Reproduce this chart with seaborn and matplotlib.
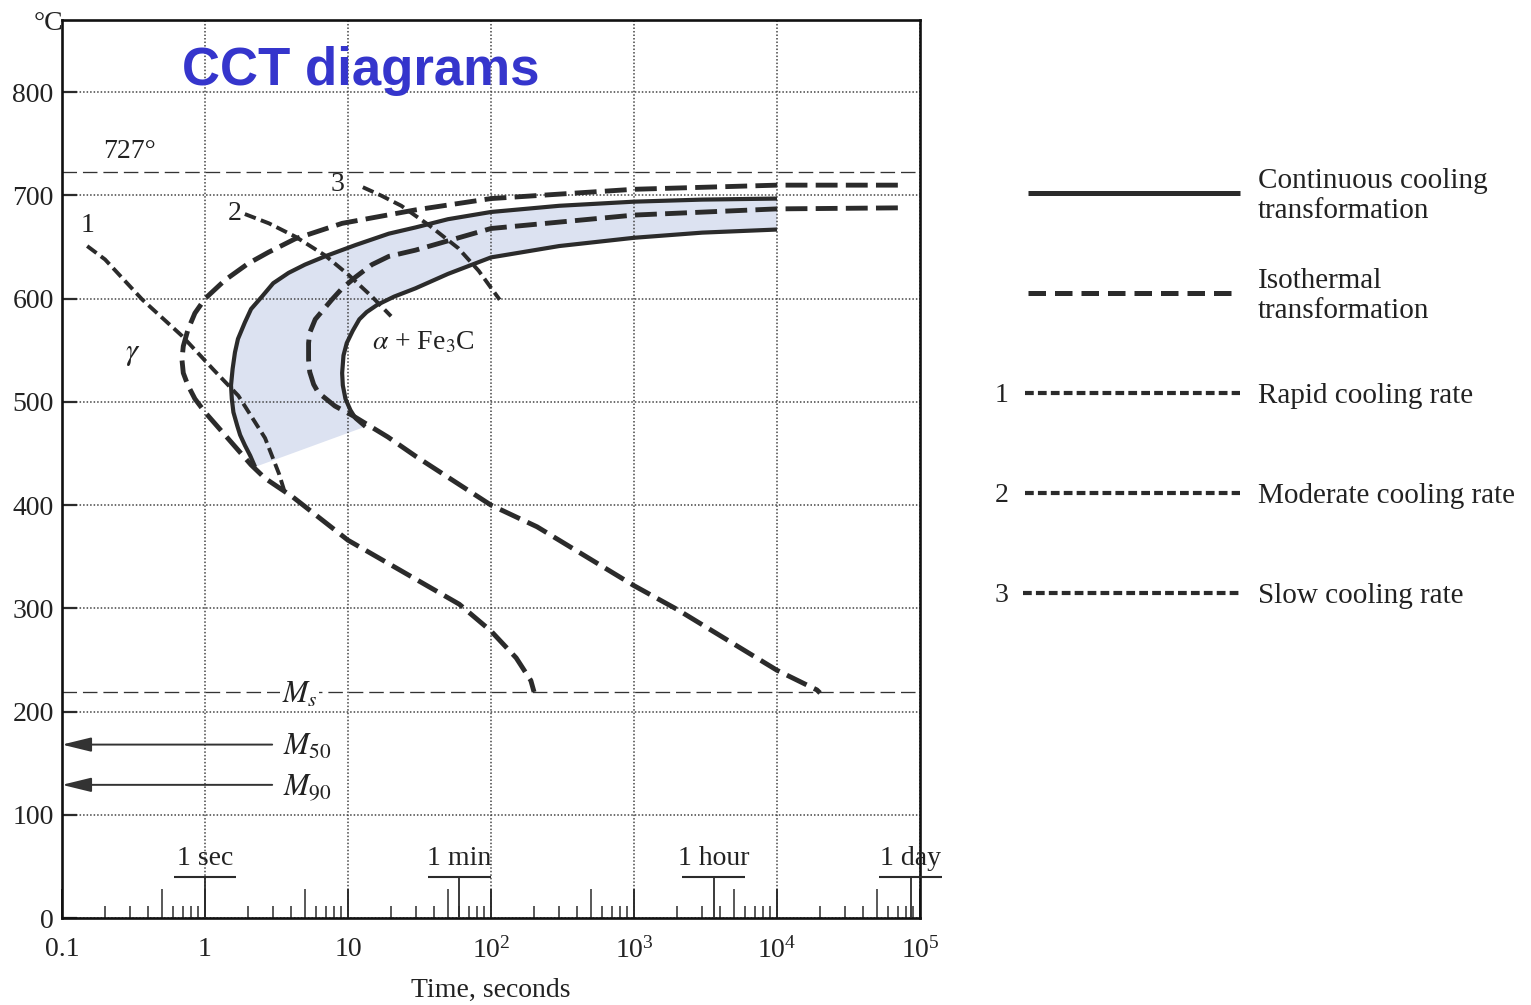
import numpy as np
import pandas as pd
import seaborn as sns
import matplotlib.pyplot as plt
from matplotlib.ticker import FixedLocator, FixedFormatter, LogLocator, NullFormatter, NullLocator

# values: time in seconds, temperature in °C
cct_start_t = [1e4, 3e3, 1e3, 300, 100, 50, 29.6, 19.3, 11.3, 6.9, 5.0, 3.84, 3.0, 2.5, 2.1, 1.9, 1.7,
               1.62, 1.56, 1.52, 1.54, 1.58, 1.68, 1.76, 1.9, 2.07, 2.24]
cct_start_T = [697, 696, 694, 690, 684, 677, 669, 663, 652, 641, 633, 625, 615, 602, 590, 577, 561,
               548, 532, 516, 503, 490, 477, 468, 458, 448, 437]
cct_finish_t = [1e4, 3e3, 1e3, 300, 100, 50, 29.6, 21, 16, 13.5, 12, 10.8, 9.8, 9.3, 9.1, 9.2, 9.6,
                10.4, 11.3, 13.2]
cct_finish_T = [667, 664, 659, 651, 640, 624, 610, 602, 594, 587, 580, 569, 557, 545, 528, 516, 503,
                492, 484, 476]

it_start_t = [7e4, 1e4, 1e3, 100, 29.6, 9.1, 4.27, 2.78, 2.0, 1.38, 1.0, 0.85, 0.76, 0.705, 0.69, 0.705,
              0.76, 0.85, 1.0, 1.46, 2.1, 2.63, 4.1, 10, 60, 100, 150, 190, 200]
it_start_T = [710, 710, 706, 697, 686, 673, 658, 645, 634, 618, 600, 586, 570, 554, 541, 528,
              516, 503, 490, 464, 439, 426, 408, 366, 304, 278, 252, 230, 219]
it_finish_t = [7e4, 1e4, 1e3, 100, 29.6, 19.3, 14.7, 11.3, 9.1, 7.7, 6.6, 5.9, 5.4, 5.3, 5.3, 5.4, 5.75,
               6.2, 8.1, 10.7, 19, 30, 100, 210, 1e3, 2e3, 1e4, 1.9e4, 2e4]
it_finish_T = [688, 687, 681, 668, 647, 641, 633, 621, 610, 599, 588, 580, 567, 557, 541, 529, 517,
               509, 496, 487, 466, 447, 400, 379, 322, 299, 240, 221, 218]

rapid_t = [0.15, 0.2, 0.365, 0.69, 1.15, 1.71, 2.63, 3.3, 3.6]
rapid_T = [651, 638, 599, 564, 531, 506, 465, 430, 413]
moderate_t = [1.9, 2.8, 4.3, 6.9, 10.1, 14.7, 20]
moderate_T = [682, 673, 660, 642, 623, 602, 583]
slow_t = [12.7, 17, 23.6, 37, 59, 82, 115]
slow_T = [708, 700, 690, 671, 649, 627, 599]

eutectoid_T = 723
ms_T = 219
m50_T = 168
m90_T = 129
arrow_start_t = 2.95

decades = [0.1, 1, 10, 100, 1e3, 1e4, 1e5]
xtick_labels = ['0.1', '1', '10', r'$\mathregular{10^2}$', r'$\mathregular{10^3}$',
                r'$\mathregular{10^4}$', r'$\mathregular{10^5}$']
five_ticks = [0.5, 5, 50, 500, 5e3, 5e4]
time_marks = [1, 60, 3600, 86400]
time_mark_labels = ['1 sec', '1 min', '1 hour', '1 day']

sns.set_theme(style='white')
plt.rcParams['font.family'] = ['Liberation Serif', 'DejaVu Serif']
plt.rcParams['mathtext.fontset'] = 'stix'

ink = '#2b2b2b'
fig = plt.figure(figsize=(15.31, 10.05), dpi=100)
ax = fig.add_axes([62 / 1531, 1 - 918 / 1005, 858 / 1531, 898 / 1005])
ax.set_xscale('log')

# shaded band between start and finish of continuous cooling transformation
ax.fill(cct_start_t + cct_finish_t[::-1], cct_start_T + cct_finish_T[::-1],
        color='#dce2f1', lw=0, zorder=0.3)

solid = dict(color=ink, linewidth=3.0, solid_capstyle='butt', solid_joinstyle='round')
iso = dict(color=ink, linewidth=3.5, linestyle=(0, (4.5, 1.7)))
cool = dict(color=ink, linewidth=2.8, linestyle=(0, (3.0, 1.4)))

for t, T, st in [(cct_start_t, cct_start_T, solid), (cct_finish_t, cct_finish_T, solid),
                 (it_start_t, it_start_T, iso), (it_finish_t, it_finish_T, iso),
                 (rapid_t, rapid_T, cool), (moderate_t, moderate_T, cool), (slow_t, slow_T, cool)]:
    sns.lineplot(x=t, y=T, sort=False, estimator=None, ax=ax, zorder=3, **st)

thin = dict(color='#333333', linewidth=0.95, linestyle=(0, (11, 4.5)), zorder=2)
ax.axhline(eutectoid_T, **thin)
ax.axhline(ms_T, **thin)

for T in [m50_T, m90_T]:
    ax.annotate('', xy=(0.1, T), xytext=(arrow_start_t, T),
                arrowprops=dict(arrowstyle='-|>,head_length=0.9,head_width=0.22', lw=1.4,
                                color='#333333', shrinkA=0, shrinkB=0, mutation_scale=20))

ax.set_xlim(0.1, 1e5)
ax.set_ylim(0, 870)

# labels inside the chart
fs = 20
ax.text(0.194, 743, '727°', fontsize=fs, va='center', ha='left', color='#222')
ax.text(0.152, 671, '1', fontsize=fs, va='center', ha='center', color='#222')
ax.text(1.62, 683, '2', fontsize=fs, va='center', ha='center', color='#222')
ax.text(8.5, 711, '3', fontsize=fs, va='center', ha='center', color='#222')
ax.text(0.31, 547, r'$\gamma$', fontsize=fs + 2, va='center', ha='center', color='#222')
ax.text(14.7, 557, r'$\alpha$ + Fe$_3$C', fontsize=fs, va='center', ha='left', color='#222')
ax.text(4.6, 216, r'$M_s$', fontsize=fs + 2, va='center', ha='center', color='#222',
        bbox=dict(facecolor='white', edgecolor='none', pad=1), zorder=4)
ax.text(3.5, 165, r'$M_{\mathrm{50}}$', fontsize=fs + 2, va='center', ha='left', color='#222')
ax.text(3.5, 126, r'$M_{\mathrm{90}}$', fontsize=fs + 2, va='center', ha='left', color='#222')

# time reference brackets
bar_T = 40
for tm, lab in zip(time_marks, time_mark_labels):
    ax.vlines(tm, 0, bar_T, color=ink, lw=1.3, clip_on=False, zorder=3)
    ax.hlines(bar_T, tm * 10 ** -0.22, tm * 10 ** 0.22, color=ink, lw=1.5, clip_on=False, zorder=3)
    ax.text(tm, bar_T + 11, lab, fontsize=fs, ha='center', va='baseline', color='#222')

ax.text(0.348, 0.9276, 'CCT diagrams', transform=ax.transAxes, fontsize=38,
        fontweight='bold', family='Liberation Sans', color='#3535cc', ha='center', va='baseline')
ax.text(-0.016, 0.996, '°C', transform=ax.transAxes, fontsize=fs, ha='center', va='center', color='#222')

# axes, ticks, grid
ax.xaxis.set_major_locator(FixedLocator(decades))
ax.xaxis.set_major_formatter(FixedFormatter(xtick_labels))
ax.xaxis.set_minor_locator(LogLocator(base=10, subs=(2, 3, 4, 6, 7, 8, 9), numticks=30))
ax.xaxis.set_minor_formatter(NullFormatter())
ax.set_yticks(range(0, 801, 100))
ax.tick_params(which='both', bottom=True, left=True, top=False, right=False)
ax.tick_params(axis='x', which='major', direction='in', length=21, width=1.4, pad=14,
               labelsize=fs, labelcolor='#222', color=ink)
ax.tick_params(axis='x', which='minor', direction='in', length=8.5, width=1.1, color=ink)
ax.tick_params(axis='y', which='major', direction='in', length=11, width=1.6, pad=6,
               labelsize=fs, labelcolor='#222', color=ink)
ax.grid(True, which='major', linestyle=(0, (1, 1.3)), linewidth=1.1, color='#444444')
ax.set_axisbelow(True)
for s in ax.spines.values():
    s.set_color('#111111')
    s.set_linewidth(1.9)

sec = ax.secondary_xaxis('bottom')
sec.set_xticks(five_ticks)
sec.xaxis.set_minor_locator(NullLocator())
sec.tick_params(direction='in', length=21, width=1.1, color=ink, labelbottom=False)
sec.spines['bottom'].set_visible(False)

ax.set_xlabel('Time, seconds', fontsize=fs, color='#222', labelpad=10)
ax.set_ylabel('')

# key on the right
lax = fig.add_axes([0, 0, 1, 1])
lax.set_xlim(0, 1531)
lax.set_ylim(1005, 0)
lax.axis('off')
lax.patch.set_visible(False)
keys = [
    ('', 'Continuous cooling\ntransformation', dict(color=ink, linewidth=3.6, solid_capstyle='butt'), 193, 1028),
    ('', 'Isothermal\ntransformation', dict(color=ink, linewidth=3.6, linestyle=(0, (3.5, 1.8))), 293, 1028),
    ('1', 'Rapid cooling rate', dict(color=ink, linewidth=3.0, linestyle=(0, (2.1, 1.0))), 393, 1025),
    ('2', 'Moderate cooling rate', dict(color=ink, linewidth=3.0, linestyle=(0, (2.1, 1.0))), 493, 1025),
    ('3', 'Slow cooling rate', dict(color=ink, linewidth=3.0, linestyle=(0, (2.1, 1.0))), 593, 1023),
]
for num, lab, st, y, x0 in keys:
    lax.plot([x0, 1240], [y, y], **st)
    if num:
        lax.text(1002, y + 2, num, fontsize=fs, ha='center', va='center', color='#222')
    lax.text(1258, y + 3, lab, fontsize=21, ha='left', va='center', linespacing=1.22, color='#222')

fig.savefig('out.png', dpi=100, facecolor='white')
